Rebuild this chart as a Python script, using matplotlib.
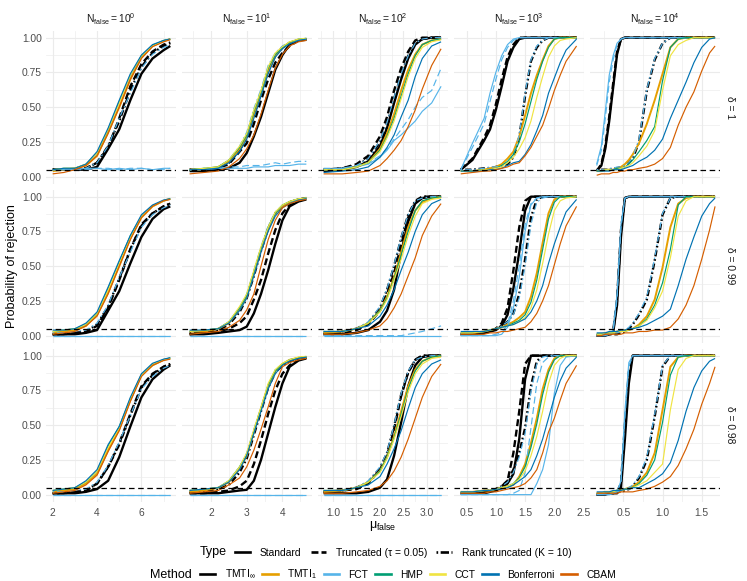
import matplotlib
matplotlib.use("Agg")
import matplotlib.pyplot as plt
from matplotlib.lines import Line2D

plt.rcParams['font.family'] = ['Liberation Sans', 'DejaVu Sans']
plt.rcParams['mathtext.fontset'] = 'custom'
plt.rcParams['mathtext.rm'] = 'Liberation Sans'
plt.rcParams['mathtext.it'] = 'Liberation Sans:italic'
plt.rcParams['mathtext.bf'] = 'Liberation Sans:bold'
plt.rcParams['lines.scale_dashes'] = False

# ---------------- data ----------------
N_EXP = [0, 1, 2, 3, 4]
DELTAS = ['1', '0.99', '0.98']

X_C1 = [2.0, 2.5, 3.0, 3.5, 4.0, 4.5, 5.0, 5.5, 6.0, 6.5, 7.0, 7.3]
X_C2 = [1.4, 1.8, 2.2, 2.5, 2.8, 3.0, 3.2, 3.4, 3.6, 3.8, 4.0, 4.2, 4.45, 4.67]
X_C3 = [0.8, 1.2, 1.5, 1.75, 2.0, 2.15, 2.3, 2.45, 2.6, 2.75, 2.9, 3.1, 3.3]
X_C4 = [0.4, 0.6, 0.8, 0.9, 1.0, 1.1, 1.2, 1.3, 1.4, 1.5, 1.6, 1.7, 1.8, 1.9, 2.0, 2.1, 2.2, 2.38]
X_C5 = [0.16, 0.22, 0.27, 0.32, 0.37, 0.42, 0.47, 0.52, 0.57, 0.62, 0.7, 0.8, 0.9, 1.0, 1.1, 1.2, 1.3, 1.4, 1.5, 1.6, 1.67]

# ---- column 1 (N_false = 10^0)
r1c1_tinf_std = [0.05, 0.05, 0.05, 0.05, 0.07, 0.2, 0.34, 0.55, 0.74, 0.85, 0.91, 0.94]
r1c1_tinf_tr = [0.05, 0.05, 0.05, 0.06, 0.1, 0.21, 0.42, 0.65, 0.81, 0.9, 0.95, 0.965]
r1c1_tinf_rk = [0.05, 0.05, 0.05, 0.06, 0.1, 0.22, 0.4, 0.62, 0.79, 0.89, 0.94, 0.96]
r1c1_t1 = [0.04, 0.05, 0.06, 0.08, 0.15, 0.32, 0.5, 0.7, 0.86, 0.94, 0.975, 0.99]
r1c1_fct_std = [0.05, 0.05, 0.05, 0.06, 0.06, 0.05, 0.06, 0.05, 0.06, 0.05, 0.06, 0.06]
r1c1_fct_tr = [0.05, 0.05, 0.05, 0.05, 0.06, 0.06, 0.05, 0.06, 0.06, 0.05, 0.05, 0.06]
r1c1_fct_rk = [0.05, 0.05, 0.05, 0.06, 0.1, 0.22, 0.42, 0.6, 0.78, 0.88, 0.93, 0.95]
r1c1_hmp = [0.05, 0.06, 0.06, 0.09, 0.17, 0.34, 0.54, 0.73, 0.87, 0.945, 0.98, 0.99]
r1c1_cct = [0.05, 0.06, 0.06, 0.09, 0.17, 0.34, 0.53, 0.73, 0.87, 0.94, 0.975, 0.99]
r1c1_bonf = [0.05, 0.06, 0.06, 0.09, 0.18, 0.35, 0.55, 0.74, 0.875, 0.95, 0.98, 0.99]
r1c1_cbam = [0.02, 0.03, 0.05, 0.08, 0.15, 0.31, 0.5, 0.7, 0.85, 0.935, 0.97, 0.985]

r2c1_tinf_std = [0.01, 0.01, 0.01, 0.02, 0.04, 0.18, 0.32, 0.52, 0.71, 0.84, 0.91, 0.93]
r2c1_tinf_tr = [0.01, 0.01, 0.02, 0.03, 0.07, 0.2, 0.4, 0.62, 0.8, 0.88, 0.93, 0.95]
r2c1_tinf_rk = [0.01, 0.01, 0.02, 0.03, 0.08, 0.21, 0.41, 0.62, 0.79, 0.88, 0.93, 0.95]
r2c1_t1 = [0.02, 0.03, 0.04, 0.07, 0.15, 0.31, 0.5, 0.7, 0.85, 0.93, 0.97, 0.985]
r2c1_fct_std = [0.0, 0.0, 0.0, 0.0, 0.0, 0.0, 0.0, 0.0, 0.0, 0.0, 0.0, 0.0]
r2c1_fct_tr = [0.0, 0.0, 0.0, 0.0, 0.0, 0.0, 0.0, 0.0, 0.0, 0.0, 0.0, 0.0]
r2c1_fct_rk = [0.02, 0.02, 0.03, 0.04, 0.09, 0.22, 0.42, 0.6, 0.78, 0.87, 0.92, 0.94]
r2c1_hmp = [0.03, 0.04, 0.05, 0.08, 0.16, 0.34, 0.53, 0.72, 0.86, 0.935, 0.97, 0.985]
r2c1_cct = [0.03, 0.04, 0.05, 0.08, 0.16, 0.33, 0.52, 0.71, 0.86, 0.93, 0.97, 0.985]
r2c1_bonf = [0.04, 0.04, 0.05, 0.09, 0.17, 0.35, 0.54, 0.72, 0.87, 0.94, 0.976, 0.985]
r2c1_cbam = [0.01, 0.02, 0.03, 0.07, 0.14, 0.3, 0.5, 0.69, 0.85, 0.93, 0.97, 0.98]

r3c1_tinf_std = [0.01, 0.01, 0.01, 0.02, 0.04, 0.1, 0.27, 0.49, 0.7, 0.83, 0.9, 0.93]
r3c1_tinf_tr = [0.01, 0.01, 0.02, 0.03, 0.08, 0.2, 0.37, 0.58, 0.78, 0.87, 0.92, 0.94]
r3c1_tinf_rk = [0.01, 0.01, 0.02, 0.03, 0.08, 0.2, 0.36, 0.57, 0.77, 0.86, 0.92, 0.94]
r3c1_t1 = [0.02, 0.03, 0.04, 0.08, 0.15, 0.32, 0.47, 0.68, 0.86, 0.93, 0.97, 0.98]
r3c1_fct_std = [0.0, 0.0, 0.0, 0.0, 0.0, 0.0, 0.0, 0.0, 0.0, 0.0, 0.0, 0.0]
r3c1_fct_tr = [0.0, 0.0, 0.0, 0.0, 0.0, 0.0, 0.0, 0.0, 0.0, 0.0, 0.0, 0.0]
r3c1_fct_rk = [0.02, 0.02, 0.03, 0.04, 0.09, 0.21, 0.38, 0.57, 0.76, 0.85, 0.91, 0.93]
r3c1_hmp = [0.03, 0.04, 0.05, 0.09, 0.17, 0.35, 0.49, 0.69, 0.86, 0.94, 0.97, 0.985]
r3c1_cct = [0.03, 0.04, 0.05, 0.09, 0.17, 0.34, 0.48, 0.69, 0.86, 0.94, 0.97, 0.98]
r3c1_bonf = [0.03, 0.04, 0.05, 0.1, 0.18, 0.36, 0.49, 0.7, 0.87, 0.945, 0.975, 0.985]
r3c1_cbam = [0.01, 0.02, 0.03, 0.07, 0.14, 0.31, 0.46, 0.67, 0.85, 0.93, 0.965, 0.975]

# ---- column 2 (N_false = 10^1)
r1c2_tinf_std = [0.04, 0.04, 0.05, 0.06, 0.1, 0.17, 0.29, 0.43, 0.6, 0.77, 0.875, 0.95, 0.98, 0.985]
r1c2_tinf_tr = [0.05, 0.05, 0.06, 0.09, 0.18, 0.24, 0.38, 0.55, 0.7, 0.82, 0.89, 0.94, 0.98, 0.99]
r1c2_tinf_rk = [0.05, 0.05, 0.06, 0.1, 0.19, 0.28, 0.44, 0.6, 0.76, 0.87, 0.93, 0.96, 0.98, 0.99]
r1c2_t1 = [0.05, 0.05, 0.07, 0.11, 0.2, 0.29, 0.45, 0.6, 0.76, 0.87, 0.93, 0.965, 0.985, 0.99]
r1c2_fct_std = [0.05, 0.05, 0.06, 0.06, 0.06, 0.06, 0.07, 0.07, 0.07, 0.08, 0.08, 0.08, 0.09, 0.09]
r1c2_fct_tr = [0.05, 0.05, 0.06, 0.07, 0.07, 0.08, 0.08, 0.08, 0.09, 0.1, 0.09, 0.1, 0.11, 0.11]
r1c2_fct_rk = [0.05, 0.06, 0.07, 0.12, 0.22, 0.32, 0.49, 0.63, 0.8, 0.89, 0.94, 0.97, 0.985, 0.99]
r1c2_hmp = [0.05, 0.06, 0.07, 0.12, 0.21, 0.3, 0.47, 0.61, 0.78, 0.88, 0.93, 0.965, 0.99, 0.995]
r1c2_cct = [0.05, 0.06, 0.07, 0.12, 0.22, 0.31, 0.48, 0.62, 0.79, 0.89, 0.935, 0.97, 0.99, 0.995]
r1c2_bonf = [0.05, 0.05, 0.06, 0.1, 0.18, 0.27, 0.42, 0.58, 0.74, 0.86, 0.92, 0.955, 0.98, 0.99]
r1c2_cbam = [0.02, 0.03, 0.04, 0.07, 0.13, 0.2, 0.3, 0.45, 0.62, 0.78, 0.88, 0.94, 0.97, 0.98]

r2c2_tinf_std = [0.01, 0.01, 0.02, 0.03, 0.04, 0.065, 0.16, 0.3, 0.47, 0.66, 0.83, 0.93, 0.965, 0.98]
r2c2_tinf_tr = [0.01, 0.02, 0.03, 0.05, 0.09, 0.14, 0.26, 0.4, 0.59, 0.76, 0.88, 0.94, 0.97, 0.985]
r2c2_tinf_rk = [0.02, 0.03, 0.04, 0.08, 0.17, 0.27, 0.43, 0.61, 0.77, 0.88, 0.93, 0.96, 0.98, 0.99]
r2c2_t1 = [0.03, 0.03, 0.05, 0.09, 0.19, 0.28, 0.45, 0.62, 0.77, 0.88, 0.93, 0.96, 0.98, 0.99]
r2c2_fct_std = [0.0, 0.0, 0.0, 0.0, 0.0, 0.0, 0.0, 0.0, 0.0, 0.0, 0.0, 0.0, 0.0, 0.0]
r2c2_fct_tr = [0.0, 0.0, 0.0, 0.0, 0.0, 0.0, 0.0, 0.0, 0.0, 0.0, 0.0, 0.0, 0.0, 0.0]
r2c2_fct_rk = [0.03, 0.04, 0.05, 0.1, 0.2, 0.3, 0.47, 0.64, 0.79, 0.89, 0.94, 0.96, 0.98, 0.99]
r2c2_hmp = [0.03, 0.04, 0.05, 0.1, 0.2, 0.29, 0.46, 0.63, 0.78, 0.88, 0.94, 0.965, 0.985, 0.99]
r2c2_cct = [0.03, 0.04, 0.05, 0.1, 0.21, 0.3, 0.47, 0.64, 0.78, 0.89, 0.94, 0.965, 0.985, 0.99]
r2c2_bonf = [0.04, 0.04, 0.05, 0.09, 0.18, 0.27, 0.43, 0.6, 0.75, 0.86, 0.92, 0.95, 0.975, 0.985]
r2c2_cbam = [0.01, 0.02, 0.03, 0.06, 0.11, 0.185, 0.3, 0.5, 0.69, 0.83, 0.92, 0.95, 0.97, 0.98]

r3c2_tinf_std = [0.01, 0.01, 0.01, 0.02, 0.03, 0.035, 0.1, 0.25, 0.44, 0.63, 0.8, 0.92, 0.965, 0.98]
r3c2_tinf_tr = [0.01, 0.01, 0.02, 0.03, 0.06, 0.1, 0.22, 0.39, 0.58, 0.75, 0.87, 0.93, 0.97, 0.985]
r3c2_tinf_rk = [0.02, 0.02, 0.04, 0.07, 0.16, 0.26, 0.43, 0.6, 0.77, 0.88, 0.93, 0.96, 0.98, 0.99]
r3c2_t1 = [0.02, 0.03, 0.05, 0.09, 0.19, 0.28, 0.45, 0.62, 0.78, 0.89, 0.94, 0.97, 0.985, 0.99]
r3c2_fct_std = [0.0, 0.0, 0.0, 0.0, 0.0, 0.0, 0.0, 0.0, 0.0, 0.0, 0.0, 0.0, 0.0, 0.0]
r3c2_fct_tr = [0.0, 0.0, 0.0, 0.0, 0.0, 0.0, 0.0, 0.0, 0.0, 0.0, 0.0, 0.0, 0.0, 0.0]
r3c2_fct_rk = [0.03, 0.04, 0.05, 0.1, 0.2, 0.3, 0.47, 0.63, 0.79, 0.9, 0.94, 0.97, 0.985, 0.99]
r3c2_hmp = [0.03, 0.04, 0.05, 0.1, 0.2, 0.29, 0.46, 0.62, 0.79, 0.89, 0.94, 0.97, 0.985, 0.99]
r3c2_cct = [0.03, 0.04, 0.05, 0.1, 0.2, 0.3, 0.47, 0.63, 0.8, 0.9, 0.945, 0.97, 0.99, 0.995]
r3c2_bonf = [0.03, 0.04, 0.05, 0.09, 0.18, 0.28, 0.44, 0.6, 0.76, 0.87, 0.93, 0.96, 0.98, 0.99]
r3c2_cbam = [0.01, 0.02, 0.03, 0.07, 0.12, 0.2, 0.32, 0.47, 0.63, 0.8, 0.92, 0.95, 0.97, 0.98]

# ---- column 3 (N_false = 10^2)
r1c3_tinf_std = [0.04, 0.05, 0.07, 0.11, 0.22, 0.35, 0.53, 0.7, 0.85, 0.95, 0.99, 1.0, 1.0]
r1c3_tinf_tr = [0.05, 0.06, 0.09, 0.15, 0.29, 0.43, 0.62, 0.78, 0.9, 0.98, 1.0, 1.0, 1.0]
r1c3_tinf_rk = [0.05, 0.06, 0.08, 0.13, 0.25, 0.38, 0.56, 0.73, 0.87, 0.96, 0.99, 1.0, 1.0]
r1c3_t1 = [0.05, 0.05, 0.07, 0.1, 0.2, 0.31, 0.45, 0.62, 0.77, 0.88, 0.95, 0.98, 0.99]
r1c3_fct_std = [0.05, 0.06, 0.07, 0.09, 0.14, 0.19, 0.26, 0.3, 0.35, 0.4, 0.47, 0.53, 0.65]
r1c3_fct_tr = [0.06, 0.06, 0.08, 0.1, 0.15, 0.2, 0.27, 0.34, 0.41, 0.5, 0.57, 0.62, 0.78]
r1c3_fct_rk = [0.05, 0.06, 0.08, 0.13, 0.26, 0.39, 0.57, 0.74, 0.87, 0.96, 0.99, 1.0, 1.0]
r1c3_hmp = [0.05, 0.05, 0.07, 0.1, 0.19, 0.29, 0.42, 0.58, 0.74, 0.87, 0.95, 0.98, 0.99]
r1c3_cct = [0.05, 0.05, 0.07, 0.1, 0.18, 0.28, 0.4, 0.56, 0.72, 0.85, 0.93, 0.97, 0.985]
r1c3_bonf = [0.03, 0.04, 0.05, 0.07, 0.14, 0.21, 0.3, 0.43, 0.55, 0.72, 0.85, 0.94, 0.97]
r1c3_cbam = [0.02, 0.02, 0.03, 0.04, 0.08, 0.13, 0.19, 0.26, 0.36, 0.48, 0.63, 0.8, 0.92]

r2c3_tinf_std = [0.01, 0.01, 0.02, 0.04, 0.1, 0.18, 0.33, 0.6, 0.82, 0.95, 0.99, 1.0, 1.0]
r2c3_tinf_tr = [0.01, 0.02, 0.04, 0.08, 0.18, 0.3, 0.45, 0.65, 0.85, 0.96, 1.0, 1.0, 1.0]
r2c3_tinf_rk = [0.02, 0.03, 0.05, 0.09, 0.2, 0.33, 0.5, 0.7, 0.87, 0.97, 1.0, 1.0, 1.0]
r2c3_t1 = [0.02, 0.03, 0.05, 0.09, 0.18, 0.28, 0.42, 0.6, 0.78, 0.9, 0.96, 0.99, 1.0]
r2c3_fct_std = [0.0, 0.0, 0.0, 0.0, 0.0, 0.0, 0.0, 0.0, 0.0, 0.0, 0.0, 0.0, 0.0]
r2c3_fct_tr = [0.0, 0.0, 0.0, 0.0, 0.0, 0.0, 0.0, 0.0, 0.01, 0.02, 0.03, 0.05, 0.07]
r2c3_fct_rk = [0.03, 0.03, 0.05, 0.1, 0.21, 0.34, 0.51, 0.71, 0.87, 0.97, 0.99, 1.0, 1.0]
r2c3_hmp = [0.03, 0.03, 0.05, 0.09, 0.18, 0.27, 0.41, 0.58, 0.75, 0.9, 0.97, 0.99, 1.0]
r2c3_cct = [0.03, 0.03, 0.05, 0.09, 0.17, 0.26, 0.4, 0.55, 0.72, 0.86, 0.95, 0.98, 0.99]
r2c3_bonf = [0.03, 0.03, 0.05, 0.07, 0.14, 0.22, 0.33, 0.47, 0.6, 0.75, 0.87, 0.95, 0.98]
r2c3_cbam = [0.01, 0.01, 0.02, 0.04, 0.07, 0.12, 0.2, 0.3, 0.43, 0.56, 0.72, 0.86, 0.95]

r3c3_tinf_std = [0.01, 0.01, 0.01, 0.02, 0.05, 0.11, 0.28, 0.52, 0.78, 0.93, 0.99, 1.0, 1.0]
r3c3_tinf_tr = [0.02, 0.03, 0.04, 0.08, 0.18, 0.28, 0.47, 0.71, 0.88, 0.97, 1.0, 1.0, 1.0]
r3c3_tinf_rk = [0.02, 0.03, 0.05, 0.09, 0.19, 0.3, 0.49, 0.72, 0.88, 0.97, 1.0, 1.0, 1.0]
r3c3_t1 = [0.02, 0.03, 0.05, 0.09, 0.17, 0.27, 0.42, 0.6, 0.78, 0.9, 0.96, 0.99, 1.0]
r3c3_fct_std = [0.0, 0.0, 0.0, 0.0, 0.0, 0.0, 0.0, 0.0, 0.0, 0.0, 0.0, 0.0, 0.0]
r3c3_fct_tr = [0.0, 0.0, 0.0, 0.0, 0.0, 0.0, 0.0, 0.0, 0.0, 0.0, 0.0, 0.0, 0.0]
r3c3_fct_rk = [0.03, 0.03, 0.05, 0.1, 0.2, 0.31, 0.5, 0.73, 0.89, 0.97, 0.99, 1.0, 1.0]
r3c3_hmp = [0.03, 0.03, 0.05, 0.09, 0.17, 0.27, 0.41, 0.58, 0.76, 0.89, 0.96, 0.99, 1.0]
r3c3_cct = [0.03, 0.03, 0.05, 0.09, 0.16, 0.26, 0.4, 0.56, 0.74, 0.87, 0.94, 0.98, 0.99]
r3c3_bonf = [0.03, 0.03, 0.05, 0.07, 0.13, 0.22, 0.33, 0.46, 0.62, 0.77, 0.87, 0.94, 0.97]
r3c3_cbam = [0.01, 0.01, 0.02, 0.03, 0.06, 0.1, 0.17, 0.27, 0.4, 0.55, 0.7, 0.85, 0.94]

# ---- column 4 (N_false = 10^3)
r1c4_tinf_std = [0.05, 0.12, 0.26, 0.34, 0.48, 0.65, 0.83, 0.93, 0.99, 1.0, 1.0, 1.0, 1.0, 1.0, 1.0, 1.0, 1.0, 1.0]
r1c4_tinf_tr = [0.05, 0.13, 0.28, 0.37, 0.52, 0.7, 0.86, 0.95, 1.0, 1.0, 1.0, 1.0, 1.0, 1.0, 1.0, 1.0, 1.0, 1.0]
r1c4_tinf_rk = [0.05, 0.05, 0.06, 0.06, 0.07, 0.08, 0.09, 0.14, 0.28, 0.58, 0.83, 0.93, 0.98, 1.0, 1.0, 1.0, 1.0, 1.0]
r1c4_t1 = [0.04, 0.04, 0.05, 0.06, 0.07, 0.09, 0.13, 0.18, 0.29, 0.44, 0.6, 0.73, 0.84, 0.94, 0.99, 1.0, 1.0, 1.0]
r1c4_fct_std = [0.05, 0.24, 0.42, 0.6, 0.75, 0.87, 0.95, 0.99, 1.0, 1.0, 1.0, 1.0, 1.0, 1.0, 1.0, 1.0, 1.0, 1.0]
r1c4_fct_tr = [0.05, 0.21, 0.38, 0.54, 0.7, 0.84, 0.93, 0.98, 1.0, 1.0, 1.0, 1.0, 1.0, 1.0, 1.0, 1.0, 1.0, 1.0]
r1c4_fct_rk = [0.05, 0.05, 0.06, 0.07, 0.07, 0.08, 0.1, 0.15, 0.3, 0.6, 0.84, 0.94, 0.98, 1.0, 1.0, 1.0, 1.0, 1.0]
r1c4_hmp = [0.04, 0.04, 0.05, 0.05, 0.06, 0.08, 0.11, 0.16, 0.25, 0.38, 0.54, 0.7, 0.83, 0.93, 0.99, 1.0, 1.0, 1.0]
r1c4_cct = [0.04, 0.04, 0.05, 0.05, 0.06, 0.07, 0.1, 0.14, 0.2, 0.28, 0.4, 0.57, 0.72, 0.86, 0.94, 0.98, 0.99, 1.0]
r1c4_bonf = [0.04, 0.04, 0.04, 0.05, 0.05, 0.06, 0.08, 0.1, 0.11, 0.16, 0.23, 0.33, 0.44, 0.6, 0.71, 0.82, 0.91, 0.99]
r1c4_cbam = [0.02, 0.03, 0.04, 0.04, 0.05, 0.06, 0.07, 0.09, 0.1, 0.15, 0.21, 0.29, 0.37, 0.49, 0.62, 0.73, 0.83, 0.94]

r2c4_tinf_std = [0.01, 0.01, 0.02, 0.03, 0.04, 0.07, 0.15, 0.34, 0.6, 0.9, 1.0, 1.0, 1.0, 1.0, 1.0, 1.0, 1.0, 1.0]
r2c4_tinf_tr = [0.01, 0.01, 0.02, 0.03, 0.05, 0.09, 0.2, 0.47, 0.78, 0.97, 1.0, 1.0, 1.0, 1.0, 1.0, 1.0, 1.0, 1.0]
r2c4_tinf_rk = [0.01, 0.01, 0.02, 0.03, 0.05, 0.07, 0.1, 0.16, 0.3, 0.55, 0.85, 0.98, 1.0, 1.0, 1.0, 1.0, 1.0, 1.0]
r2c4_t1 = [0.02, 0.02, 0.03, 0.04, 0.05, 0.06, 0.08, 0.1, 0.13, 0.17, 0.28, 0.45, 0.67, 0.88, 0.98, 1.0, 1.0, 1.0]
r2c4_fct_std = [0.0, 0.0, 0.0, 0.0, 0.0, 0.01, 0.06, 0.2, 0.42, 0.75, 0.94, 0.99, 1.0, 1.0, 1.0, 1.0, 1.0, 1.0]
r2c4_fct_tr = [0.0, 0.0, 0.0, 0.0, 0.01, 0.02, 0.08, 0.25, 0.5, 0.8, 0.95, 0.99, 1.0, 1.0, 1.0, 1.0, 1.0, 1.0]
r2c4_fct_rk = [0.02, 0.02, 0.03, 0.04, 0.05, 0.07, 0.1, 0.15, 0.27, 0.5, 0.8, 0.96, 0.99, 1.0, 1.0, 1.0, 1.0, 1.0]
r2c4_hmp = [0.02, 0.02, 0.03, 0.04, 0.05, 0.06, 0.07, 0.09, 0.11, 0.15, 0.24, 0.4, 0.62, 0.84, 0.96, 1.0, 1.0, 1.0]
r2c4_cct = [0.02, 0.02, 0.03, 0.04, 0.05, 0.06, 0.07, 0.08, 0.1, 0.13, 0.2, 0.33, 0.52, 0.73, 0.9, 0.97, 0.99, 1.0]
r2c4_bonf = [0.03, 0.03, 0.03, 0.04, 0.05, 0.06, 0.07, 0.08, 0.1, 0.12, 0.17, 0.25, 0.36, 0.52, 0.66, 0.78, 0.89, 0.98]
r2c4_cbam = [0.01, 0.01, 0.01, 0.02, 0.02, 0.03, 0.03, 0.04, 0.05, 0.06, 0.1, 0.16, 0.25, 0.36, 0.51, 0.66, 0.79, 0.93]

r3c4_tinf_std = [0.01, 0.01, 0.01, 0.02, 0.03, 0.05, 0.08, 0.15, 0.4, 0.83, 1.0, 1.0, 1.0, 1.0, 1.0, 1.0, 1.0, 1.0]
r3c4_tinf_tr = [0.01, 0.01, 0.02, 0.03, 0.04, 0.06, 0.1, 0.3, 0.6, 0.94, 1.0, 1.0, 1.0, 1.0, 1.0, 1.0, 1.0, 1.0]
r3c4_tinf_rk = [0.01, 0.01, 0.02, 0.03, 0.04, 0.06, 0.1, 0.18, 0.3, 0.48, 0.78, 0.96, 1.0, 1.0, 1.0, 1.0, 1.0, 1.0]
r3c4_t1 = [0.02, 0.02, 0.03, 0.03, 0.04, 0.05, 0.06, 0.07, 0.13, 0.22, 0.37, 0.55, 0.76, 0.9, 0.98, 1.0, 1.0, 1.0]
r3c4_fct_std = [0.0, 0.0, 0.0, 0.0, 0.0, 0.0, 0.0, 0.0, 0.0, 0.0, 0.0, 0.08, 0.18, 0.36, 0.73, 0.93, 0.99, 1.0]
r3c4_fct_tr = [0.0, 0.0, 0.0, 0.0, 0.0, 0.0, 0.0, 0.01, 0.03, 0.16, 0.48, 0.8, 0.95, 0.99, 1.0, 1.0, 1.0, 1.0]
r3c4_fct_rk = [0.02, 0.02, 0.03, 0.03, 0.04, 0.06, 0.09, 0.16, 0.27, 0.44, 0.74, 0.94, 0.99, 1.0, 1.0, 1.0, 1.0, 1.0]
r3c4_hmp = [0.02, 0.02, 0.03, 0.03, 0.04, 0.05, 0.06, 0.08, 0.12, 0.2, 0.34, 0.51, 0.72, 0.88, 0.97, 1.0, 1.0, 1.0]
r3c4_cct = [0.02, 0.02, 0.03, 0.03, 0.04, 0.05, 0.06, 0.08, 0.11, 0.17, 0.28, 0.42, 0.6, 0.8, 0.93, 0.98, 1.0, 1.0]
r3c4_bonf = [0.02, 0.02, 0.03, 0.03, 0.04, 0.04, 0.05, 0.07, 0.1, 0.13, 0.18, 0.28, 0.4, 0.55, 0.7, 0.82, 0.91, 0.99]
r3c4_cbam = [0.01, 0.01, 0.01, 0.02, 0.02, 0.03, 0.04, 0.05, 0.06, 0.08, 0.12, 0.18, 0.3, 0.45, 0.55, 0.68, 0.8, 0.93]

# ---- column 5 (N_false = 10^4)
r1c5_tinf_std = [0.04, 0.08, 0.2, 0.4, 0.64, 0.88, 0.99, 1.0, 1.0, 1.0, 1.0, 1.0, 1.0, 1.0, 1.0, 1.0, 1.0, 1.0, 1.0, 1.0, 1.0]
r1c5_tinf_tr = [0.04, 0.09, 0.22, 0.43, 0.67, 0.9, 0.99, 1.0, 1.0, 1.0, 1.0, 1.0, 1.0, 1.0, 1.0, 1.0, 1.0, 1.0, 1.0, 1.0, 1.0]
r1c5_tinf_rk = [0.05, 0.05, 0.05, 0.05, 0.06, 0.06, 0.07, 0.08, 0.1, 0.13, 0.25, 0.62, 0.84, 0.96, 1.0, 1.0, 1.0, 1.0, 1.0, 1.0, 1.0]
r1c5_t1 = [0.04, 0.04, 0.05, 0.05, 0.05, 0.06, 0.07, 0.09, 0.12, 0.16, 0.24, 0.38, 0.55, 0.74, 0.93, 0.99, 1.0, 1.0, 1.0, 1.0, 1.0]
r1c5_fct_std = [0.09, 0.22, 0.47, 0.73, 0.87, 0.96, 0.99, 1.0, 1.0, 1.0, 1.0, 1.0, 1.0, 1.0, 1.0, 1.0, 1.0, 1.0, 1.0, 1.0, 1.0]
r1c5_fct_tr = [0.08, 0.19, 0.42, 0.68, 0.84, 0.95, 0.99, 1.0, 1.0, 1.0, 1.0, 1.0, 1.0, 1.0, 1.0, 1.0, 1.0, 1.0, 1.0, 1.0, 1.0]
r1c5_fct_rk = [0.05, 0.05, 0.05, 0.06, 0.06, 0.07, 0.07, 0.08, 0.1, 0.14, 0.27, 0.63, 0.85, 0.96, 1.0, 1.0, 1.0, 1.0, 1.0, 1.0, 1.0]
r1c5_hmp = [0.04, 0.04, 0.05, 0.05, 0.05, 0.06, 0.06, 0.07, 0.09, 0.12, 0.18, 0.26, 0.36, 0.69, 0.93, 0.99, 1.0, 1.0, 1.0, 1.0, 1.0]
r1c5_cct = [0.04, 0.04, 0.05, 0.05, 0.05, 0.05, 0.06, 0.07, 0.08, 0.1, 0.15, 0.22, 0.33, 0.62, 0.87, 0.95, 0.98, 1.0, 1.0, 1.0, 1.0]
r1c5_bonf = [0.04, 0.04, 0.04, 0.04, 0.05, 0.05, 0.05, 0.06, 0.07, 0.08, 0.11, 0.14, 0.19, 0.27, 0.42, 0.55, 0.68, 0.82, 0.93, 0.99, 1.0]
r1c5_cbam = [0.01, 0.02, 0.02, 0.02, 0.03, 0.03, 0.04, 0.04, 0.05, 0.05, 0.06, 0.07, 0.09, 0.13, 0.21, 0.37, 0.5, 0.61, 0.76, 0.89, 0.94]

r2c5_tinf_std = [0.0, 0.0, 0.0, 0.01, 0.02, 0.22, 0.71, 0.99, 1.0, 1.0, 1.0, 1.0, 1.0, 1.0, 1.0, 1.0, 1.0, 1.0, 1.0, 1.0, 1.0]
r2c5_tinf_tr = [0.0, 0.0, 0.0, 0.01, 0.03, 0.26, 0.76, 0.99, 1.0, 1.0, 1.0, 1.0, 1.0, 1.0, 1.0, 1.0, 1.0, 1.0, 1.0, 1.0, 1.0]
r2c5_tinf_rk = [0.0, 0.0, 0.01, 0.01, 0.01, 0.01, 0.02, 0.03, 0.05, 0.08, 0.15, 0.26, 0.54, 0.87, 0.99, 1.0, 1.0, 1.0, 1.0, 1.0, 1.0]
r2c5_t1 = [0.01, 0.01, 0.02, 0.02, 0.02, 0.03, 0.03, 0.04, 0.04, 0.05, 0.08, 0.14, 0.26, 0.49, 0.78, 0.95, 0.99, 1.0, 1.0, 1.0, 1.0]
r2c5_fct_std = [0.0, 0.0, 0.0, 0.01, 0.04, 0.3, 0.8, 0.99, 1.0, 1.0, 1.0, 1.0, 1.0, 1.0, 1.0, 1.0, 1.0, 1.0, 1.0, 1.0, 1.0]
r2c5_fct_tr = [0.0, 0.0, 0.0, 0.01, 0.03, 0.27, 0.78, 0.99, 1.0, 1.0, 1.0, 1.0, 1.0, 1.0, 1.0, 1.0, 1.0, 1.0, 1.0, 1.0, 1.0]
r2c5_fct_rk = [0.01, 0.01, 0.01, 0.01, 0.02, 0.02, 0.03, 0.04, 0.06, 0.09, 0.16, 0.28, 0.56, 0.88, 0.99, 1.0, 1.0, 1.0, 1.0, 1.0, 1.0]
r2c5_hmp = [0.01, 0.01, 0.02, 0.02, 0.02, 0.03, 0.03, 0.03, 0.04, 0.05, 0.07, 0.12, 0.22, 0.38, 0.62, 0.94, 1.0, 1.0, 1.0, 1.0, 1.0]
r2c5_cct = [0.01, 0.01, 0.02, 0.02, 0.02, 0.03, 0.03, 0.03, 0.04, 0.05, 0.07, 0.11, 0.2, 0.32, 0.56, 0.86, 0.97, 1.0, 1.0, 1.0, 1.0]
r2c5_bonf = [0.02, 0.02, 0.02, 0.03, 0.03, 0.03, 0.04, 0.04, 0.05, 0.05, 0.06, 0.08, 0.11, 0.14, 0.19, 0.36, 0.55, 0.71, 0.86, 0.95, 0.99]
r2c5_cbam = [0.0, 0.0, 0.01, 0.01, 0.01, 0.01, 0.01, 0.02, 0.02, 0.02, 0.03, 0.03, 0.04, 0.04, 0.06, 0.12, 0.22, 0.36, 0.55, 0.76, 0.93]

r3c5_tinf_std = [0.0, 0.0, 0.0, 0.01, 0.01, 0.01, 0.05, 0.4, 0.8, 1.0, 1.0, 1.0, 1.0, 1.0, 1.0, 1.0, 1.0, 1.0, 1.0, 1.0, 1.0]
r3c5_tinf_tr = [0.0, 0.0, 0.0, 0.01, 0.01, 0.02, 0.08, 0.5, 0.88, 1.0, 1.0, 1.0, 1.0, 1.0, 1.0, 1.0, 1.0, 1.0, 1.0, 1.0, 1.0]
r3c5_tinf_rk = [0.0, 0.0, 0.01, 0.01, 0.01, 0.02, 0.02, 0.03, 0.04, 0.06, 0.12, 0.25, 0.56, 0.92, 1.0, 1.0, 1.0, 1.0, 1.0, 1.0, 1.0]
r3c5_t1 = [0.01, 0.01, 0.02, 0.02, 0.02, 0.03, 0.03, 0.04, 0.05, 0.06, 0.09, 0.16, 0.3, 0.61, 0.92, 0.99, 1.0, 1.0, 1.0, 1.0, 1.0]
r3c5_fct_std = [0.0, 0.0, 0.0, 0.0, 0.01, 0.02, 0.1, 0.6, 0.95, 1.0, 1.0, 1.0, 1.0, 1.0, 1.0, 1.0, 1.0, 1.0, 1.0, 1.0, 1.0]
r3c5_fct_tr = [0.0, 0.0, 0.0, 0.0, 0.01, 0.02, 0.09, 0.55, 0.92, 1.0, 1.0, 1.0, 1.0, 1.0, 1.0, 1.0, 1.0, 1.0, 1.0, 1.0, 1.0]
r3c5_fct_rk = [0.01, 0.01, 0.01, 0.02, 0.02, 0.02, 0.03, 0.04, 0.05, 0.07, 0.13, 0.27, 0.58, 0.93, 1.0, 1.0, 1.0, 1.0, 1.0, 1.0, 1.0]
r3c5_hmp = [0.01, 0.01, 0.02, 0.02, 0.02, 0.03, 0.03, 0.04, 0.04, 0.05, 0.08, 0.14, 0.25, 0.52, 0.86, 0.99, 1.0, 1.0, 1.0, 1.0, 1.0]
r3c5_cct = [0.01, 0.01, 0.02, 0.02, 0.02, 0.03, 0.03, 0.04, 0.04, 0.05, 0.07, 0.1, 0.16, 0.22, 0.61, 0.9, 0.98, 1.0, 1.0, 1.0, 1.0]
r3c5_bonf = [0.02, 0.02, 0.02, 0.02, 0.03, 0.03, 0.03, 0.04, 0.04, 0.05, 0.05, 0.08, 0.11, 0.15, 0.23, 0.39, 0.6, 0.77, 0.89, 0.96, 0.98]
r3c5_cbam = [0.01, 0.01, 0.01, 0.01, 0.01, 0.01, 0.02, 0.02, 0.02, 0.02, 0.03, 0.04, 0.06, 0.09, 0.13, 0.21, 0.33, 0.47, 0.65, 0.8, 0.92]

ALPHA_LINE = 0.05

X_TICKS = [[2, 4, 6], [2, 3, 4], [1.0, 1.5, 2.0, 2.5, 3.0], [0.5, 1.0, 1.5, 2.0, 2.5], [0.5, 1.0, 1.5]]
X_TICKLABELS = [['2', '4', '6'], ['2', '3', '4'], ['1.0', '1.5', '2.0', '2.5', '3.0'],
                ['0.5', '1.0', '1.5', '2.0', '2.5'], ['0.5', '1.0', '1.5']]
X_MINOR = [[3, 5, 7], [1.5, 2.5, 3.5, 4.5], [0.75, 1.25, 1.75, 2.25, 2.75, 3.25],
           [0.75, 1.25, 1.75, 2.25], [0.25, 0.75, 1.25]]
Y_TICKS = [0.0, 0.25, 0.5, 0.75, 1.0]
Y_TICKLABELS = ['0.00', '0.25', '0.50', '0.75', '1.00']
Y_MINOR = [0.125, 0.375, 0.625, 0.875]

TYPE_LABELS = ['Standard', 'Truncated (τ = 0.05)', 'Rank truncated (K = 10)']
METHOD_LABELS = ['TMTI$_{\\infty}$', 'TMTI$_{1}$', 'FCT', 'HMP', 'CCT', 'Bonferroni', 'CBAM']
METHOD_COLORS = ['#000000', '#E69F00', '#56B4E9', '#009E73', '#F0E442', '#0072B2', '#D55E00']

# ---------------- styling / layout ----------------
DASHED = (5.0, 2.6)
DOTDASH = (1.2, 2.0, 4.5, 2.0)
SERIES = [
    ('tinf_std', 0, 1.7, None),
    ('tinf_tr', 0, 1.7, DASHED),
    ('tinf_rk', 0, 1.7, DOTDASH),
    ('t1', 1, 1.4, None),
    ('fct_std', 2, 0.85, None),
    ('fct_tr', 2, 0.85, DASHED),
    ('fct_rk', 2, 0.85, DOTDASH),
    ('hmp', 3, 0.85, None),
    ('cct', 4, 0.85, None),
    ('bonf', 5, 0.85, None),
    ('cbam', 6, 0.85, None),
]
X_GRIDS = [X_C1, X_C2, X_C3, X_C4, X_C5]
XLIMS = [(1.70, 7.54), (1.19, 4.82), (0.685, 3.443), (0.29, 2.505), (0.08, 1.733)]

W, H = 747, 581
PL = [46.0, 182.1, 318.2, 454.3, 590.4]
PW = 129.6
PT = [30.7, 189.7, 348.7]
PH = 152.9

TICK_COLOR = '#4D4D4D'
GRID_COLOR = '#EBEBEB'
SMALL = 7.4
BIG = 9.0

fig = plt.figure(figsize=(W / 100, H / 100), dpi=100)
fig.patch.set_facecolor('white')
g = globals()

for ri in range(3):
    for ci in range(5):
        ax = fig.add_axes([PL[ci] / W, 1 - (PT[ri] + PH) / H, PW / W, PH / H])
        ax.set_facecolor('white')
        for s in ax.spines.values():
            s.set_visible(False)
        ax.set_xlim(*XLIMS[ci])
        ax.set_ylim(-0.05, 1.05)
        ax.set_xticks(X_TICKS[ci])
        ax.set_xticks(X_MINOR[ci], minor=True)
        ax.set_yticks(Y_TICKS)
        ax.set_yticks(Y_MINOR, minor=True)
        ax.set_xticklabels(X_TICKLABELS[ci])
        ax.set_yticklabels(Y_TICKLABELS)
        ax.grid(which='major', color=GRID_COLOR, lw=0.85)
        ax.grid(which='minor', color=GRID_COLOR, lw=0.45)
        ax.set_axisbelow(True)
        ax.tick_params(which='both', length=0)
        ax.tick_params(axis='x', pad=4.6, labelsize=SMALL, labelcolor=TICK_COLOR,
                       labelbottom=(ri == 2))
        ax.tick_params(axis='y', pad=3.0, labelsize=SMALL, labelcolor=TICK_COLOR,
                       labelleft=(ci == 0))
        xs = X_GRIDS[ci]
        for key, mi, lw, dashes in SERIES:
            ys = g['r%dc%d_%s' % (ri + 1, ci + 1, key)]
            ln, = ax.plot(xs, ys, color=METHOD_COLORS[mi], lw=lw,
                          solid_joinstyle='round', solid_capstyle='butt')
            if dashes is not None:
                ln.set_dashes(dashes)
        hl = ax.axhline(ALPHA_LINE, color='black', lw=0.9, zorder=5)
        hl.set_dashes((4.0, 2.6))

# strips
for ci in range(5):
    fig.text((PL[ci] + PW / 2) / W, 1 - 23.3 / H,
             r'$\mathregular{N_{false} = 10^{%d}}$' % N_EXP[ci],
             ha='center', va='baseline', fontsize=SMALL, color='#1A1A1A')
for ri in range(3):
    fig.text(729.6 / W, 1 - (PT[ri] + PH / 2) / H, 'δ = ' + DELTAS[ri],
             rotation=-90, ha='center', va='center', fontsize=SMALL, color='#1A1A1A')

# axis titles
fig.text(12.5 / W, 1 - 266 / H, 'Probability of rejection', rotation=90,
         ha='center', va='center', fontsize=BIG)
fig.text(383 / W, 1 - 526 / H, r'$\mathregular{\mu_{false}}$',
         ha='center', va='center', fontsize=BIG)

# legends
type_handles = [Line2D([], [], color='black', lw=1.9),
                Line2D([], [], color='black', lw=1.9, dashes=(5.0, 2.2)),
                Line2D([], [], color='black', lw=1.9, dashes=(1.2, 1.8, 6.0, 1.8))]
leg1 = fig.legend(type_handles, TYPE_LABELS, loc='center left',
                  bbox_to_anchor=(234.6 / W, 1 - 552.5 / H), ncol=3, frameon=False,
                  fontsize=SMALL, handlelength=1.5, handletextpad=0.95,
                  columnspacing=0.9, borderpad=0, borderaxespad=0)
fig.text(200 / W, 1 - 552.5 / H, 'Type', ha='left', va='center', fontsize=BIG)

method_handles = [Line2D([], [], color=c, lw=1.9) for c in METHOD_COLORS]
leg2 = fig.legend(method_handles, METHOD_LABELS, loc='center left',
                  bbox_to_anchor=(200 / W, 1 - 574.5 / H), ncol=7, frameon=False,
                  fontsize=SMALL, handlelength=1.5, handletextpad=0.9,
                  columnspacing=0.68, borderpad=0, borderaxespad=0)
fig.text(150 / W, 1 - 574.5 / H, 'Method', ha='left', va='center', fontsize=BIG)

fig.savefig('out.png', dpi=100)
